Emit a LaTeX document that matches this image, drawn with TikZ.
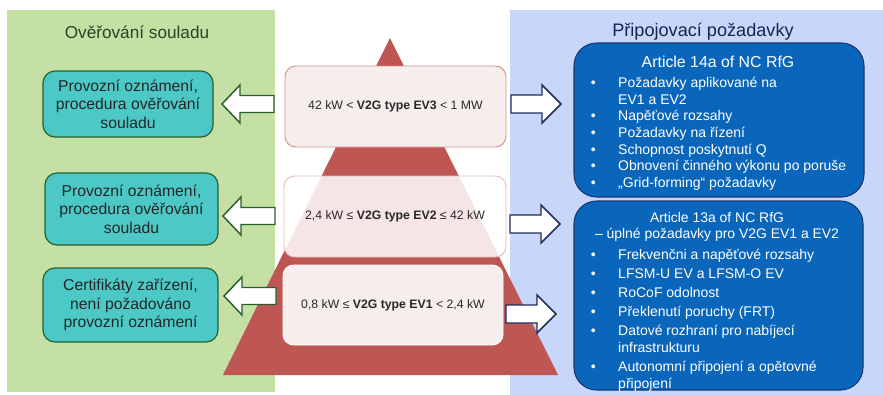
\documentclass[tikz,border=0pt]{standalone}
\usepackage{fontspec}
\setmainfont{Liberation Sans}
\usetikzlibrary{fit}
\definecolor{greenpanel}{RGB}{197,224,165}
\definecolor{bluepanel}{RGB}{200,214,250}
\definecolor{pyr}{RGB}{190,86,84}
\definecolor{tealfill}{RGB}{76,201,198}
\definecolor{tealborder}{RGB}{40,95,45}
\definecolor{boxfill}{RGB}{246,237,237}
\definecolor{boxborder}{RGB}{215,145,145}
\definecolor{bluebox}{RGB}{10,102,186}
\definecolor{blueborder}{RGB}{25,55,110}
\definecolor{navyarrow}{RGB}{30,45,95}
\definecolor{greentitle}{RGB}{35,70,35}
\definecolor{bluetitle}{RGB}{25,35,80}
\definecolor{pyrtext}{RGB}{40,40,40}
\newcommand\bitem[1]{\makebox[20.6pt][l]{\textbullet}#1}
\newcommand\bcont[1]{\hspace*{20.6pt}#1}
\tikzset{
  panel/.style={inner sep=0pt, draw=none},
  paneltitle/.style={inner sep=0pt},
  tealbox/.style={inner sep=0pt, rounded corners=9pt, fill=tealfill, draw=tealborder, line width=0.9pt, align=center, font=\fontsize{11.8}{13.9}\selectfont, text=black!85},
  levelbox/.style={inner sep=0pt, rounded corners=8pt, line width=0.7pt, align=center, font=\fontsize{9.2}{11}\selectfont, text=pyrtext},
  bluebox/.style={inner sep=0pt, rounded corners=17pt, fill=bluebox, draw=blueborder, line width=0.8pt},
  bluetext/.style={inner sep=0pt, text=white, align=left},
  leftarr/.pic={\draw[pic actions] (0,0) -- (18,-19) -- (18,-8.5) -- (52,-8.5) -- (52,8.5) -- (18,8.5) -- (18,19) -- cycle;},
  rightarr/.pic={\draw[pic actions] (0,-9) -- (31,-9) -- (31,-19) -- (50,0) -- (31,19) -- (31,9) -- (0,9) -- cycle;},
  garrow/.style={draw=tealborder, fill=white, line width=1.1pt, line join=miter},
  barrow/.style={draw=navyarrow, fill=white, line width=1.1pt, line join=miter},
}
\begin{document}
\begin{tikzpicture}[x=0.75pt,y=-0.75pt]
\useasboundingbox (0,0) rectangle (883,394);
\fill[white] (0,0) rectangle (883,394);
% panels
\node[panel, fill=greenpanel, fit={(7,10) (275,392)}] (gpanel) {};
\node[panel, fill=bluepanel, fit={(510,10) (883,396)}] (bpanel) {};
\node[paneltitle, text=greentitle, font=\fontsize{12.9}{15}\selectfont] (gtitle) at (137,32) {Ověřování souladu};
\node[paneltitle, text=bluetitle, font=\fontsize{13.6}{15}\selectfont] (btitle) at (703,32) {Připojovací požadavky};
% pyramid
\fill[pyr] (390,38) -- (223,375) -- (558,375) -- cycle;
% level boxes
\node[levelbox, fill=boxfill, draw=boxborder, fit={(285,66) (506,147)}] (ev3) {};
\node[levelbox] at (ev3.center) {42 kW < \textbf{V2G type EV3} < 1 MW};
\node[levelbox, fill=white, fill opacity=0.85, draw=boxborder!60, fit={(284,176) (506,257)}] (ev2) {};
\node[levelbox] at (ev2.center) {2,4 kW ≤ \textbf{V2G type EV2} ≤ 42 kW};
\node[levelbox, fill=boxfill, draw=white, fit={(283,265) (503,345)}] (ev1) {};
\node[levelbox] at (ev1.center) {0,8 kW ≤ \textbf{V2G type EV1} < 2,4 kW};
% teal boxes
\node[tealbox, fit={(43,71) (213,137)}] (l1) {};
\node[tealbox, draw=none, fill=none] at (l1.center) {Provozní oznámení,\\procedura ověřování\\souladu};
\node[tealbox, fit={(45,173) (218,245)}] (l2) {};
\node[tealbox, draw=none, fill=none] at (l2.center) {Provozní oznámení,\\procedura ověřování\\souladu};
\node[tealbox, fit={(43,268) (218,342)}] (l3) {};
\node[tealbox, draw=none, fill=none] at (l3.center) {Certifikáty zařízení,\\není požadováno\\provozní oznámení};
% left arrows
\pic[garrow] at (222,104) {leftarr};
\pic[garrow] at (223,216) {leftarr};
\pic[garrow] at (224,296) {leftarr};
% right arrows
\pic[barrow] at (511,104) {rightarr};
\pic[barrow] at (510,224) {rightarr};
\pic[barrow] at (506,314) {rightarr};
% blue boxes
\node[bluebox, fit={(574,43) (864,197)}] (b1) {};
\node[bluebox, fit={(574,201) (863,390)}] (b2) {};
\node[bluetext, font=\fontsize{11.9}{13}\selectfont] (b1title) at (718,62) {Article 14a of NC RfG};
\node[bluetext, anchor=north west, font=\fontsize{10.5}{12.5}\selectfont] (b1list) at (590.5,77) {%
\bitem{Požadavky aplikované na}\\
\bcont{EV1 a EV2}\\
\bitem{Napěťové rozsahy}\\
\bitem{Požadavky na řízení}\\
\bitem{Schopnost poskytnutí Q}\\
\bitem{Obnovení činného výkonu po poruše}\\
\bitem{„Grid-forming“ požadavky}};
\node[bluetext, align=center, font=\fontsize{10.45}{12}\selectfont] (b2title) at (717,227) {Article 13a of NC RfG\\– úplné požadavky pro V2G EV1 a EV2};
\node[bluetext, anchor=north west, font=\fontsize{10.5}{12.6}\selectfont] (b2list) at (590.5,249) {%
\bitem{Frekvenčni a napěťové rozsahy}\\[1.65pt]
\bitem{LFSM-U EV a LFSM-O EV}\\[1.65pt]
\bitem{RoCoF odolnost}\\[1.65pt]
\bitem{Překlenutí poruchy (FRT)}\\[1.65pt]
\bitem{Datové rozhraní pro nabíjecí}\\
\bcont{infrastrukturu}\\[1.65pt]
\bitem{Autonomní připojení a opětovné}\\
\bcont{připojení}};
\end{tikzpicture}
\end{document}
